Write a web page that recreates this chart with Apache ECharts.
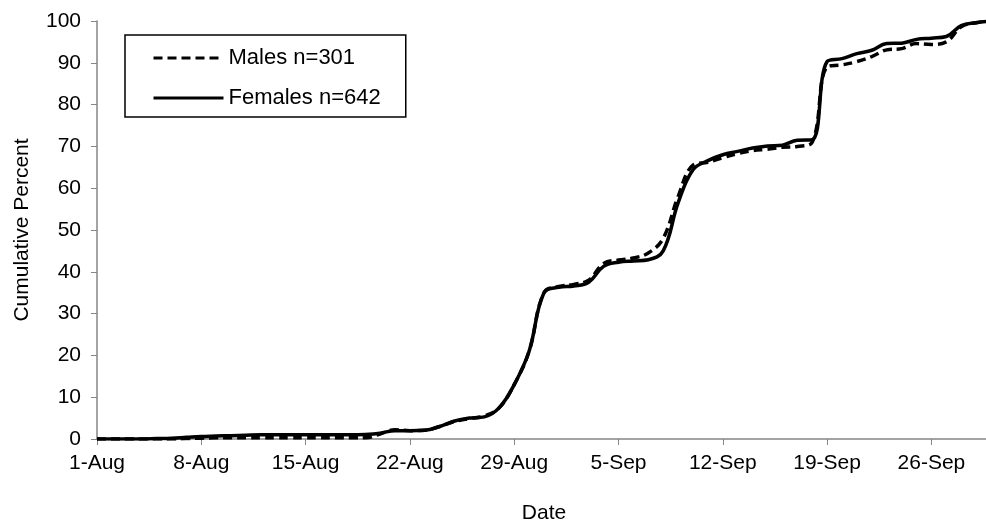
<!DOCTYPE html>
<html>
<head>
<meta charset="utf-8">
<title>Cumulative Percent</title>
<script src="https://cdn.jsdelivr.net/npm/echarts@6/dist/echarts.min.js"></script>
<style>
    html, body { margin: 0; padding: 0; background: #fff; }
    .chart { width: 986px; height: 524px; }
</style>
</head>
<body>
<div class="chart"></div>
<script>
// days on the x axis (1-Aug .. 30-Sep)
const dates = [
    "1-Aug", "2-Aug", "3-Aug", "4-Aug", "5-Aug", "6-Aug", "7-Aug", "8-Aug", "9-Aug", "10-Aug",
    "11-Aug", "12-Aug", "13-Aug", "14-Aug", "15-Aug", "16-Aug", "17-Aug", "18-Aug", "19-Aug", "20-Aug",
    "21-Aug", "22-Aug", "23-Aug", "24-Aug", "25-Aug", "26-Aug", "27-Aug", "28-Aug", "29-Aug", "30-Aug",
    "31-Aug", "1-Sep", "2-Sep", "3-Sep", "4-Sep", "5-Sep", "6-Sep", "7-Sep", "8-Sep", "9-Sep",
    "10-Sep", "11-Sep", "12-Sep", "13-Sep", "14-Sep", "15-Sep", "16-Sep", "17-Sep", "18-Sep", "19-Sep",
    "20-Sep", "21-Sep", "22-Sep", "23-Sep", "24-Sep", "25-Sep", "26-Sep", "27-Sep", "28-Sep", "29-Sep",
    "30-Sep"
];
// cumulative percent, males (dashed)
const males = [
    0, 0, 0, 0, 0, 0, 0.1, 0.2, 0.3, 0.3,
    0.3, 0.3, 0.3, 0.3, 0.3, 0.3, 0.3, 0.3, 0.3, 1.2,
    2.2, 2.0, 2.1, 3.0, 4.2, 4.9, 5.5, 7.5, 13.0, 21.0,
    35.0, 36.5, 37.0, 38.0, 42.0, 42.8, 43.3, 44.5, 48.0, 58.0,
    65.5, 66.2, 67.3, 68.3, 69.0, 69.3, 69.8, 70.0, 71.0, 89.0,
    89.5, 90.3, 91.5, 93.1, 93.4, 94.6, 94.4, 95.0, 98.6, 99.6,
    100
];
// cumulative percent, females (solid)
const females = [
    0, 0, 0, 0, 0.1, 0.2, 0.4, 0.6, 0.7, 0.8,
    0.9, 1.0, 1.0, 1.0, 1.0, 1.0, 1.0, 1.0, 1.1, 1.4,
    2.0, 2.0, 2.1, 3.0, 4.3, 5.0, 5.3, 7.5, 13.0, 21.0,
    35.0, 36.3, 36.6, 37.5, 41.3, 42.3, 42.6, 42.9, 45.0, 56.5,
    64.4, 66.6, 68.0, 68.8, 69.6, 70.1, 70.3, 71.5, 71.6, 90.3,
    91.0, 92.2, 93.0, 94.6, 94.7, 95.6, 95.9, 96.3, 98.9, 99.6,
    100
];
const series_names = ["Males n=301", "Females n=642"];
const y_ticks = [0, 10, 20, 30, 40, 50, 60, 70, 80, 90, 100];

(function () {
    const my_echart = echarts.init(document.querySelector(".chart"));
    const font = "Arial, 'Liberation Sans', sans-serif";
    const week = function (index) { return index % 7 === 0; }; //label/tick every 7 days
    let option = {
        animation: false,
        textStyle: { fontFamily: font, color: "#000" },
        grid: {
            left: 97,
            right: -5,
            top: 21,
            bottom: 85,
            containLabel: false,
            outerBoundsMode: "none" //keep the plot box fixed, names/labels may sit outside
        },
        legend: {
            orient: "vertical",
            left: 125,
            top: 35,
            data: series_names,
            itemWidth: 70,
            itemHeight: 14,
            itemGap: 18,
            padding: [12, 25, 8, 27],
            borderColor: "#000",
            borderWidth: 1.5,
            itemStyle: { opacity: 0 }, //hide the legend symbol, keep only the line
            lineStyle: { width: 3 },
            textStyle: { fontFamily: font, fontSize: 22, color: "#000" }
        },
        xAxis: {
            type: "category",
            data: dates,
            boundaryGap: false,
            name: "Date",
            nameLocation: "middle",
            nameGap: 64,
            nameTextStyle: { fontFamily: font, fontSize: 21, color: "#000" },
            axisLine: { lineStyle: { color: "#868686", width: 1.5 } },
            axisTick: { interval: week, length: 6, lineStyle: { color: "#868686" } },
            axisLabel: { interval: week, fontFamily: font, fontSize: 21, color: "#000", margin: 14 },
            splitLine: { show: false }
        },
        yAxis: {
            type: "value",
            min: y_ticks[0],
            max: y_ticks[y_ticks.length - 1],
            interval: 10,
            name: "Cumulative Percent",
            nameLocation: "middle",
            nameGap: 64,
            nameTextStyle: { fontFamily: font, fontSize: 21, color: "#000" },
            axisLine: { show: true, lineStyle: { color: "#868686", width: 1.5 } },
            axisTick: { show: true, length: 6, lineStyle: { color: "#868686" } },
            axisLabel: { fontFamily: font, fontSize: 21, color: "#000", margin: 16 },
            splitLine: { show: false }
        },
        series: [
            {
                name: series_names[0],
                type: "line",
                data: males,
                smooth: 0.4,
                symbol: "none",
                lineStyle: { color: "#000", width: 3.5, type: [9, 5] },
                itemStyle: { color: "#000" },
                z: 3
            },
            {
                name: series_names[1],
                type: "line",
                data: females,
                smooth: 0.4,
                symbol: "none",
                lineStyle: { color: "#000", width: 3.5 },
                itemStyle: { color: "#000" },
                z: 2
            }
        ]
    };
    my_echart.setOption(option);
    window.addEventListener("resize", function () {
        my_echart.resize();
    });
})();
</script>
</body>
</html>
